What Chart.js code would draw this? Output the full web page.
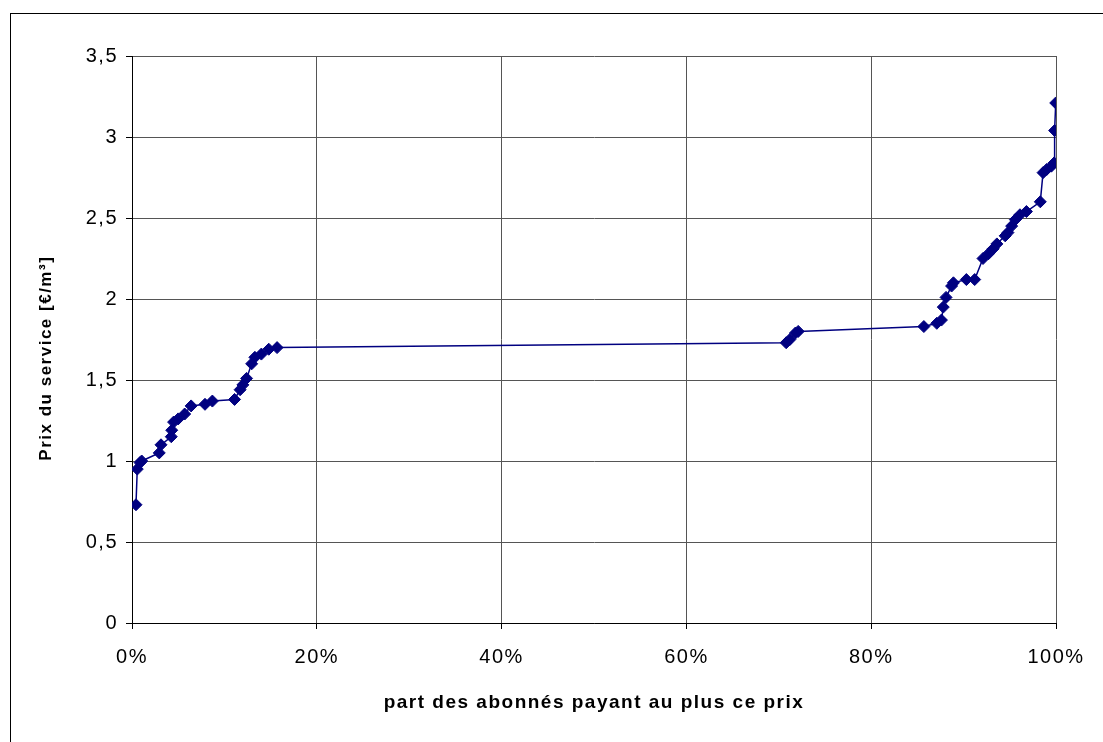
<!DOCTYPE html>
<html>
<head>
<meta charset="utf-8">
<script src="https://cdn.jsdelivr.net/npm/chart.js@4/dist/chart.umd.min.js"></script>
<style>
  html, body { margin: 0; padding: 0; background: #fff; overflow: hidden; }
  #frame { position: absolute; left: 10px; top: 13px; width: 1200px; height: 800px; border: 1px solid #000; }
  #wrap { position: absolute; left: 0; top: 0; width: 1103px; height: 742px; }
</style>
</head>
<body>
<div id="frame"></div>
<div id="wrap"><canvas id="prixChart" width="1103" height="742"></canvas></div>
<script>
// part des abonnés (0..1) et prix correspondant (€/m³)
const partAbonnes = [
  0.0043, 0.0057, 0.0087, 0.0105, 0.0295, 0.0314, 0.0425, 0.0430, 0.0450, 0.0500,
  0.0570, 0.0640, 0.0790, 0.0870, 0.1110, 0.1170, 0.1200, 0.1240, 0.1295, 0.1330,
  0.1400, 0.1480, 0.1570,
  0.7080, 0.7120, 0.7180, 0.7210,
  0.8570, 0.8710, 0.8760, 0.8780, 0.8810, 0.8870, 0.8890, 0.9030, 0.9120, 0.9210,
  0.9270, 0.9320, 0.9360, 0.9450, 0.9480, 0.9520, 0.9560, 0.9610, 0.9680, 0.9830,
  0.9860, 0.9900, 0.9950, 0.9980, 0.9985, 0.9997
];
const prixService = [
  0.73, 0.95, 0.99, 1.00, 1.05, 1.10, 1.15, 1.19, 1.24, 1.26,
  1.29, 1.34, 1.35, 1.37, 1.38, 1.44, 1.47, 1.51, 1.60, 1.64,
  1.66, 1.69, 1.70,
  1.73, 1.75, 1.79, 1.80,
  1.83, 1.85, 1.87, 1.95, 2.01, 2.08, 2.10, 2.12, 2.12, 2.25,
  2.28, 2.31, 2.34, 2.39, 2.41, 2.45, 2.49, 2.52, 2.54, 2.60,
  2.78, 2.80, 2.82, 2.84, 3.04, 3.21
];
const yTicks = [0, 0.5, 1, 1.5, 2, 2.5, 3, 3.5];

const points = partAbonnes.map((x, i) => ({ x: x, y: prixService[i] }));

// texte un peu plus espacé, comme dans l'original
const spacing = {
  id: 'spacing',
  beforeInit(chart) { chart.ctx.letterSpacing = '1.5px'; },
  beforeDraw(chart) { chart.ctx.letterSpacing = '1.5px'; }
};

const canvas = document.getElementById('prixChart');
new Chart(canvas, {
  type: 'line',
  data: {
    datasets: [{
      data: points,
      borderColor: '#000080',
      backgroundColor: '#000080',
      borderWidth: 1.5,
      pointStyle: 'rectRot',
      pointRadius: 6,
      pointBorderWidth: 1,
      pointBorderColor: '#000080',
      pointBackgroundColor: '#000080',
      tension: 0
    }]
  },
  options: {
    responsive: false,
    animation: false,
    layout: { padding: { left: 0, top: 56, right: 47, bottom: 0 } },
    plugins: { legend: { display: false }, tooltip: { enabled: false } },
    scales: {
      x: {
        type: 'linear',
        min: 0,
        max: 1,
        afterFit: (s) => { s.height = 119; },
        ticks: {
          stepSize: 0.2,
          padding: 16,
          color: '#000',
          font: { family: 'Liberation Sans', size: 20 },
          callback: (v) => Math.round(v * 100) + '%'
        },
        grid: { color: '#555', lineWidth: 1, tickLength: 6, tickColor: '#000' },
        border: { color: '#000', width: 1 },
        title: {
          display: true,
          text: 'part des abonnés payant au plus ce prix',
          color: '#000',
          font: { family: 'Liberation Sans', size: 19, weight: 'bold' },
          padding: { top: 0, bottom: 28 }
        }
      },
      y: {
        min: 0,
        max: 3.5,
        afterFit: (s) => { s.width = 132; },
        afterBuildTicks: (s) => { s.ticks = yTicks.map(v => ({ value: v })); },
        ticks: {
          padding: 8,
          color: '#000',
          font: { family: 'Liberation Sans', size: 20 },
          callback: (v) => String(v).replace('.', ',')
        },
        grid: { color: '#555', lineWidth: 1, tickLength: 6, tickColor: '#000' },
        border: { color: '#000', width: 1 },
        title: {
          display: true,
          text: 'Prix du service [€/m³]      ',
          color: '#000',
          font: { family: 'Liberation Sans', size: 17, weight: 'bold' },
          padding: { top: 36, bottom: 0 }
        }
      }
    }
  },
  plugins: [spacing]
});
</script>
</body>
</html>
